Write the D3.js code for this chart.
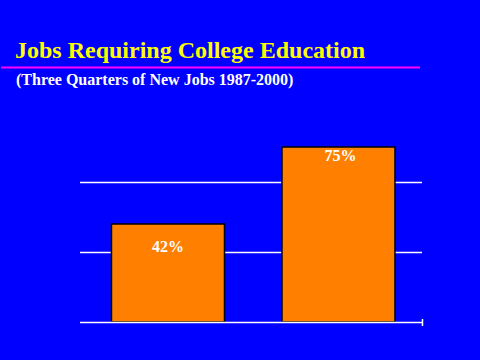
<!DOCTYPE html>
<html><head><meta charset="utf-8">
<script src="https://cdn.jsdelivr.net/npm/d3@7"></script>
<style>html,body{margin:0;padding:0;background:#0000FF;overflow:hidden}svg{display:block}</style>
</head><body>
<script>
const categories = ["Jobs 1987", "Jobs 2000"];
const values = [42, 75];
const labels = ["42%", "75%"];
const gridTicks = [30, 60];

const W = 480, H = 360;
const svg = d3.select("body").append("svg").attr("width", W).attr("height", H);
svg.append("rect").attr("width", W).attr("height", H).attr("fill", "#0000FF");

const serif = "'Liberation Serif','Times New Roman',serif";

svg.append("text").attr("x", 15).attr("y", 58).attr("fill", "#FFFF00")
  .attr("font-family", serif).attr("font-weight", "bold").attr("font-size", 24)
  .text("Jobs Requiring College Education");
svg.append("line").attr("x1", 1).attr("x2", 420).attr("y1", 67.5).attr("y2", 67.5)
  .attr("stroke", "#FF00FF").attr("stroke-width", 2);
svg.append("text").attr("x", 16).attr("y", 84.5).attr("fill", "#FFFFFF")
  .attr("font-family", serif).attr("font-weight", "bold").attr("font-size", 16)
  .text("(Three Quarters of New Jobs 1987-2000)");

const x = d3.scaleBand().domain(categories).range([80, 422])
  .paddingInner(0.3372).paddingOuter(0.1716).align(0.538);
const y = d3.scaleLinear().domain([0, 90]).range([322, 112]);

svg.append("g").selectAll("line").data(gridTicks).join("line")
  .attr("x1", 80).attr("x2", 422)
  .attr("y1", d => Math.round(y(d)) + 0.5).attr("y2", d => Math.round(y(d)) + 0.5)
  .attr("stroke", "#FFFFFF").attr("stroke-width", 1.5);

svg.append("g").selectAll("rect").data(values).join("rect")
  .attr("x", (d, i) => x(categories[i]))
  .attr("y", d => y(d))
  .attr("width", x.bandwidth())
  .attr("height", d => y(0) - y(d))
  .attr("fill", "#FF8000").attr("stroke", "#000000").attr("stroke-width", 1.5);

const labelDy = [28, 14];
svg.append("g").selectAll("text").data(values).join("text")
  .attr("x", (d, i) => x(categories[i]) + x.bandwidth() / 2 + (i === 1 ? 2 : 0))
  .attr("y", (d, i) => y(d) + labelDy[i])
  .attr("text-anchor", "middle").attr("fill", "#FFFFFF")
  .attr("font-family", serif).attr("font-weight", "bold").attr("font-size", 16)
  .text((d, i) => labels[i]);

svg.append("line").attr("x1", 80).attr("x2", 422.5).attr("y1", 322.5).attr("y2", 322.5)
  .attr("stroke", "#FFFFFF").attr("stroke-width", 1.5);
svg.append("line").attr("x1", 422.5).attr("x2", 422.5).attr("y1", 319).attr("y2", 326)
  .attr("stroke", "#FFFFFF").attr("stroke-width", 1.5);
</script>
</body></html>
